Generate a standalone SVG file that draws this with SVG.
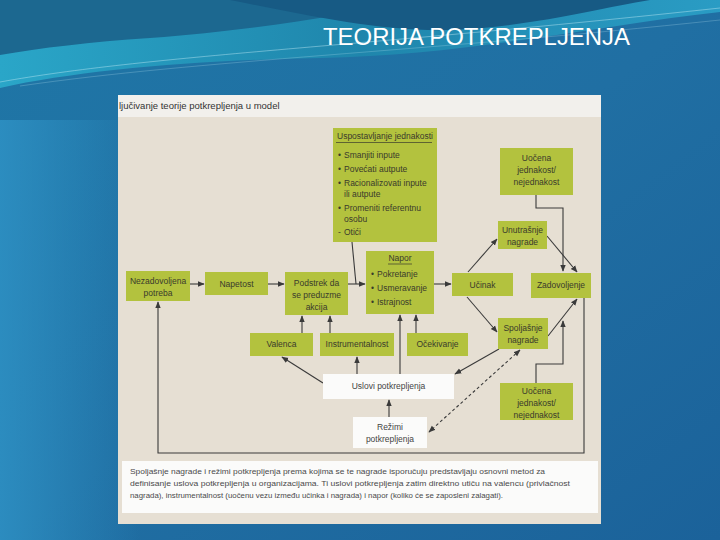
<svg xmlns="http://www.w3.org/2000/svg" width="720" height="540" viewBox="0 0 720 540">
<defs>
<linearGradient id="bg" x1="0" y1="0" x2="1" y2="1">
<stop offset="0" stop-color="#1f76a6"/>
<stop offset="0.5" stop-color="#206fa3"/>
<stop offset="1" stop-color="#1b629a"/>
</linearGradient>
<linearGradient id="wave" x1="0" y1="0" x2="1" y2="0">
<stop offset="0" stop-color="#2aa6c8"/>
<stop offset="0.5" stop-color="#1f86ac"/>
<stop offset="1" stop-color="#2a9cc4"/>
</linearGradient>
<linearGradient id="leftglow" x1="0" y1="0" x2="1" y2="0">
<stop offset="0" stop-color="#2f93c6" stop-opacity="0.8"/>
<stop offset="1" stop-color="#2f93c6" stop-opacity="0"/>
</linearGradient>
<marker id="ah" viewBox="0 0 10 10" refX="9" refY="5" markerWidth="7" markerHeight="7" markerUnits="userSpaceOnUse" orient="auto-start-reverse">
<path d="M0,1 L10,5 L0,9 Z" fill="#3a3a3a"/>
</marker>
<style>
.box{fill:#b3c23e}
.wbox{fill:#fbfbfa}
.t{font-family:"Liberation Sans",Arial,sans-serif;font-size:8.5px;fill:#3a3a2c}
.tc{text-anchor:middle}
.cap{font-family:"Liberation Sans",Arial,sans-serif;font-size:8px;fill:#4a4a4a}
.c{fill:none;stroke:#3a3a3a;stroke-width:1.1}
.d{fill:none;stroke:#3a3a3a;stroke-width:1.1;stroke-dasharray:3,2.5}
</style>
</defs>
<rect x="0" y="0" width="720" height="540" fill="url(#bg)"/>
<rect x="0" y="120" width="140" height="420" fill="url(#leftglow)"/>
<path d="M0,0 H720 V12 C600,25 470,55 320,58 C200,60 80,70 0,88 Z" fill="url(#wave)"/>
<path d="M0,0 H420 C330,18 250,30 150,38 C90,42 40,48 0,55 Z" fill="#1c6890"/>
<path d="M230,0 C300,14 380,32 450,30 C530,27 600,8 650,0 Z" fill="#175a84"/>
<path d="M0,82 C150,55 350,48 720,8" fill="none" stroke="#bfe8f4" stroke-opacity="0.45" stroke-width="1"/>
<path d="M20,86 C200,60 420,52 720,20" fill="none" stroke="#bfe8f4" stroke-opacity="0.25" stroke-width="1"/>
<text x="323" y="45" font-family="'Liberation Sans',Arial,sans-serif" font-size="24" fill="#ffffff" textLength="307" lengthAdjust="spacingAndGlyphs">TEORIJA POTKREPLJENJA</text>

<g id="scan">
<rect x="118" y="95" width="483" height="429" fill="#e6dfd3"/>
<rect x="118" y="95" width="483" height="22" fill="#f2f0ec"/>
<text x="119" y="109" font-family="'Liberation Sans',Arial,sans-serif" font-size="9.5" fill="#333">ljučivanje teorije potkrepljenja u model</text>
</g>

<g id="connectors">
<path class="c" d="M190,284 H204" marker-end="url(#ah)"/>
<path class="c" d="M268,284 H284" marker-end="url(#ah)"/>
<path class="c" d="M348,284 H365" marker-end="url(#ah)"/>
<path class="c" d="M352,242 L356,284"/>
<path class="c" d="M434,284 H451" marker-end="url(#ah)"/>
<path class="c" d="M468,272 L497,239" marker-end="url(#ah)"/>
<path class="c" d="M547,236 L577,272" marker-end="url(#ah)"/>
<path class="c" d="M536,195 V208 H563 V271" marker-end="url(#ah)"/>
<path class="c" d="M467,297 L497,332" marker-end="url(#ah)"/>
<path class="c" d="M548,336 L577,299" marker-end="url(#ah)"/>
<path class="c" d="M536,383 V364 H563 V321" marker-end="url(#ah)"/>
<path class="c" d="M584,298 V453 H158 V302" marker-end="url(#ah)"/>
<path class="c" d="M302,333 V316" marker-end="url(#ah)"/>
<path class="c" d="M330,333 V316" marker-end="url(#ah)"/>
<path class="c" d="M400,374 V315" marker-end="url(#ah)"/>
<path class="c" d="M416,333 V315" marker-end="url(#ah)"/>
<path class="c" d="M323,383 L282,357" marker-end="url(#ah)"/>
<path class="c" d="M357,374 V357" marker-end="url(#ah)"/>
<path class="c" d="M499,349 L455,374" marker-end="url(#ah)"/>
<path class="c" d="M389,417 V400" marker-end="url(#ah)"/>
<path class="d" d="M520,350 L429,432" marker-start="url(#ah)" marker-end="url(#ah)"/>
</g>

<g id="uspostavljanje">
<rect class="box" x="333" y="128" width="104" height="114"/>
<text class="t" x="337" y="139">Uspostavljanje jednakosti</text>
<line x1="336" y1="142.5" x2="432" y2="142.5" stroke="#3a3a2c" stroke-width="0.7"/>
<text class="t" x="338" y="158">•</text><text class="t" x="344" y="158">Smanjiti inpute</text>
<text class="t" x="338" y="172">•</text><text class="t" x="344" y="172">Povećati autpute</text>
<text class="t" x="338" y="186">•</text><text class="t" x="344" y="186">Racionalizovati inpute</text>
<text class="t" x="344" y="197">ili autpute</text>
<text class="t" x="338" y="211">•</text><text class="t" x="344" y="211">Promeniti referentnu</text>
<text class="t" x="344" y="222">osobu</text>
<text class="t" x="338" y="235">-</text><text class="t" x="344" y="235">Otići</text>
</g>

<g id="uocena-top">
<rect class="box" x="500" y="148" width="73" height="47"/>
<text class="t tc" x="536.5" y="161">Uočena</text>
<text class="t tc" x="536.5" y="173">jednakost/</text>
<text class="t tc" x="536.5" y="185">nejednakost</text>
</g>

<g id="unutrasnje">
<rect class="box" x="498" y="221" width="49" height="28"/>
<text class="t tc" x="522.5" y="233">Unutrašnje</text>
<text class="t tc" x="522.5" y="245">nagrade</text>
</g>

<g id="nezadovoljena">
<rect class="box" x="126" y="271" width="64" height="30"/>
<text class="t tc" x="158" y="284">Nezadovoljena</text>
<text class="t tc" x="158" y="296">potreba</text>
</g>

<g id="napetost">
<rect class="box" x="205" y="272" width="63" height="23"/>
<text class="t tc" x="236.5" y="287">Napetost</text>
</g>

<g id="podstrek">
<rect class="box" x="285" y="272" width="63" height="43"/>
<text class="t tc" x="316.5" y="286">Podstrek da</text>
<text class="t tc" x="316.5" y="298">se preduzme</text>
<text class="t tc" x="316.5" y="310">akcija</text>
</g>

<g id="napor">
<rect class="box" x="366" y="251" width="68" height="63"/>
<text class="t tc" x="400" y="261">Napor</text>
<line x1="388" y1="264" x2="412" y2="264" stroke="#3a3a2c" stroke-width="0.7"/>
<text class="t" x="371" y="277">•</text><text class="t" x="377" y="277">Pokretanje</text>
<text class="t" x="371" y="291">•</text><text class="t" x="377" y="291">Usmeravanje</text>
<text class="t" x="371" y="305">•</text><text class="t" x="377" y="305">Istrajnost</text>
</g>

<g id="ucinak">
<rect class="box" x="452" y="273" width="61" height="23"/>
<text class="t tc" x="482.5" y="288">Učinak</text>
</g>

<g id="zadovoljenje">
<rect class="box" x="531" y="273" width="60" height="25"/>
<text class="t tc" x="561" y="288">Zadovoljenje</text>
</g>

<g id="valenca">
<rect class="box" x="250" y="333" width="63" height="23"/>
<text class="t tc" x="281.5" y="347">Valenca</text>
</g>

<g id="instrumentalnost">
<rect class="box" x="320" y="333" width="74" height="23"/>
<text class="t tc" x="357" y="347">Instrumentalnost</text>
</g>

<g id="ocekivanje">
<rect class="box" x="407" y="333" width="61" height="23"/>
<text class="t tc" x="437.5" y="347">Očekivanje</text>
</g>

<g id="spoljasnje">
<rect class="box" x="498" y="318" width="50" height="31"/>
<text class="t tc" x="523" y="331">Spoljašnje</text>
<text class="t tc" x="523" y="343">nagrade</text>
</g>

<g id="uslovi">
<rect class="wbox" x="323" y="374" width="131" height="25"/>
<text class="t tc" x="388.5" y="389" style="fill:#444">Uslovi potkrepljenja</text>
</g>

<g id="uocena-bottom">
<rect class="box" x="500" y="383" width="73" height="37"/>
<text class="t tc" x="536.5" y="394">Uočena</text>
<text class="t tc" x="536.5" y="406">jednakost/</text>
<text class="t tc" x="536.5" y="418">nejednakost</text>
</g>

<g id="rezimi">
<rect class="wbox" x="353" y="417" width="74" height="31"/>
<text class="t tc" x="390" y="430" style="fill:#444">Režimi</text>
<text class="t tc" x="390" y="442" style="fill:#444">potkrepljenja</text>
</g>

<g id="caption">
<rect class="wbox" x="122" y="461" width="476" height="52"/>
<text class="cap" x="130" y="474" textLength="415" lengthAdjust="spacingAndGlyphs">Spoljašnje nagrade i režimi potkrepljenja prema kojima se te nagrade isporučuju predstavljaju osnovni metod za</text>
<text class="cap" x="130" y="486" textLength="440" lengthAdjust="spacingAndGlyphs">definisanje uslova potkrepljenja u organizacijama. Ti uslovi potkrepljenja zatim direktno utiču na valencu (privlačnost</text>
<text class="cap" x="130" y="498" textLength="373" lengthAdjust="spacingAndGlyphs">nagrada), instrumentalnost (uočenu vezu između učinka i nagrada) i napor (koliko će se zaposleni zalagati).</text>
</g>
</svg>
